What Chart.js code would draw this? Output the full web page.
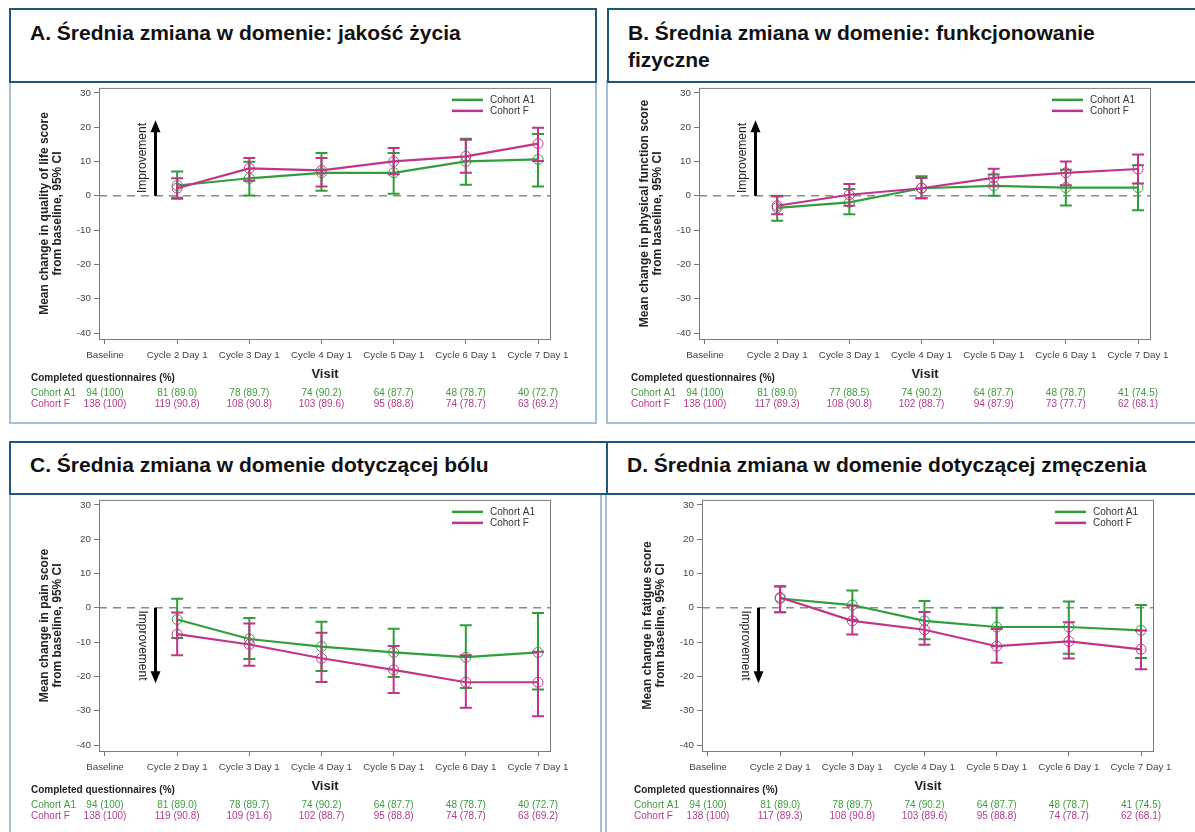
<!DOCTYPE html>
<html>
<head>
<meta charset="utf-8">
<script src="https://cdn.jsdelivr.net/npm/chart.js@4.4.1/dist/chart.umd.min.js"></script>
<style>
  body { margin: 0; width: 1195px; height: 832px; overflow: hidden; background: #fff; position: relative; font-family: "Liberation Sans", Arial, sans-serif; }
  .frame { position: absolute; border: 2px solid #a9bfd9; box-sizing: border-box; }
  .head { position: absolute; border: 2px solid #1d5878; box-sizing: border-box; background: #fff; font-weight: bold; font-size: 21px; line-height: 27px; color: #111; padding-left: 19px; z-index: 2; }
  canvas { position: absolute; z-index: 1; }
</style>
</head>
<body>
<div class="frame" style="left:9px;top:80px;width:588px;height:344px"></div>
<div class="frame" style="left:606px;top:80px;width:600px;height:344px"></div>
<div class="frame" style="left:9px;top:492px;width:593px;height:360px"></div>
<div class="frame" style="left:605px;top:492px;width:600px;height:360px"></div>

<div class="head" style="left:9px;top:8px;width:588px;height:75px;padding-top:9px">A. Średnia zmiana w domenie: jakość życia</div>
<div class="head" style="left:607px;top:8px;width:600px;height:75px;padding-top:9px">B. Średnia zmiana w domenie: funkcjonowanie<br>fizyczne</div>
<div class="head" style="left:9px;top:441px;width:599px;height:54px;padding-top:8px">C. Średnia zmiana w domenie dotyczącej bólu</div>
<div class="head" style="left:606px;top:441px;width:600px;height:54px;padding-top:8px">D. Średnia zmiana w domenie dotyczącej zmęczenia</div>

<canvas id="chartA" width="588" height="345" style="left:11px;top:79px"></canvas>
<canvas id="chartB" width="588" height="345" style="left:611px;top:79px"></canvas>
<canvas id="chartC" width="588" height="345" style="left:11px;top:491px"></canvas>
<canvas id="chartD" width="588" height="345" style="left:614px;top:491px"></canvas>

<script>
const visits = ['Baseline', 'Cycle 2 Day 1', 'Cycle 3 Day 1', 'Cycle 4 Day 1', 'Cycle 5 Day 1', 'Cycle 6 Day 1', 'Cycle 7 Day 1'];
const cohorts = ['Cohort A1', 'Cohort F'];
const yTickValues = [-40, -30, -20, -10, 0, 10, 20, 30];

// A - jakosc zycia (Cycle 2 .. Cycle 7)
const qolA1Mean = [3.0, 5.1, 6.7, 6.7, 10.0, 10.6];
const qolA1Low = [-0.6, 0.1, 1.5, 0.6, 3.2, 2.7];
const qolA1High = [7.1, 9.9, 12.5, 12.5, 16.6, 18.0];
const qolFMean = [2.2, 8.0, 7.4, 10.0, 11.5, 15.2];
const qolFLow = [-0.9, 4.4, 2.7, 6.3, 6.7, 10.1];
const qolFHigh = [5.1, 11.0, 11.0, 13.9, 16.3, 19.8];
const qolA1N = ['94 (100)', '81 (89.0)', '78 (89.7)', '74 (90.2)', '64 (87.7)', '48 (78.7)', '40 (72.7)'];
const qolFN = ['138 (100)', '119 (90.8)', '108 (90.8)', '103 (89.6)', '95 (88.8)', '74 (78.7)', '63 (69.2)'];

// B - funkcjonowanie fizyczne
const physA1Mean = [-3.5, -1.9, 2.2, 2.9, 2.4, 2.4];
const physA1Low = [-7.3, -5.4, -0.7, 0.0, -2.8, -4.2];
const physA1High = [0.0, 2.0, 5.7, 6.2, 7.6, 8.9];
const physFMean = [-2.9, 0.3, 2.2, 5.2, 6.7, 7.8];
const physFLow = [-5.4, -2.9, -0.7, 2.9, 3.1, 3.6];
const physFHigh = [-0.2, 3.4, 5.2, 7.9, 10.0, 12.0];
const physA1N = ['94 (100)', '81 (89.0)', '77 (88.5)', '74 (90.2)', '64 (87.7)', '48 (78.7)', '41 (74.5)'];
const physFN = ['138 (100)', '117 (89.3)', '108 (90.8)', '102 (88.7)', '94 (87.9)', '73 (77.7)', '62 (68.1)'];

// C - bol
const painA1Mean = [-3.4, -9.1, -11.3, -13.0, -14.4, -13.0];
const painA1Low = [-8.8, -14.9, -18.4, -20.2, -23.4, -23.8];
const painA1High = [2.6, -3.0, -4.1, -6.1, -5.1, -1.5];
const painFMean = [-7.7, -10.7, -14.7, -18.1, -21.7, -21.7];
const painFLow = [-13.8, -16.9, -21.6, -24.8, -29.1, -31.6];
const painFHigh = [-1.4, -4.6, -7.3, -11.1, -13.8, -12.8];
const painA1N = ['94 (100)', '81 (89.0)', '78 (89.7)', '74 (90.2)', '64 (87.7)', '48 (78.7)', '40 (72.7)'];
const painFN = ['138 (100)', '119 (90.8)', '109 (91.6)', '102 (88.7)', '95 (88.8)', '74 (78.7)', '63 (69.2)'];

// D - zmeczenie
const fatA1Mean = [2.7, 0.8, -3.8, -5.6, -5.6, -6.6];
const fatA1Low = [-1.3, -3.5, -9.2, -11.2, -13.4, -14.6];
const fatA1High = [6.3, 5.0, 2.0, 0.0, 1.8, 0.8];
const fatFMean = [3.0, -3.8, -6.4, -11.2, -9.8, -12.1];
const fatFLow = [-1.3, -7.8, -10.8, -16.0, -14.8, -17.9];
const fatFHigh = [6.2, 0.6, -1.2, -6.2, -4.2, -6.6];
const fatA1N = ['94 (100)', '81 (89.0)', '78 (89.7)', '74 (90.2)', '64 (87.7)', '48 (78.7)', '41 (74.5)'];
const fatFN = ['138 (100)', '117 (89.3)', '108 (90.8)', '103 (89.6)', '95 (88.8)', '74 (78.7)', '62 (68.1)'];

const GREEN = '#2f9e3b';
const MAGENTA = '#c1348a';
const GREEN_TXT = '#3f9a3f';
const MAGENTA_TXT = '#b33a8c';
const FONT = '"Liberation Sans", Arial, sans-serif';

Chart.defaults.font.family = FONT;

// slupki bledu rysowane zaraz po kazdej serii
const errorBars = {
  id: 'errorBars',
  afterDatasetDraw(chart, args) {
    const ds = chart.data.datasets[args.index];
    const xs = chart.scales.x, ys = chart.scales.y, c = chart.ctx;
    c.save();
    c.strokeStyle = ds.borderColor;
    c.lineWidth = 2;
    ds.lo.forEach(function (lo, i) {
      const x = xs.getPixelForValue(i + 1);
      const y1 = ys.getPixelForValue(lo);
      const y2 = ys.getPixelForValue(ds.hi[i]);
      c.beginPath();
      c.moveTo(x, y1); c.lineTo(x, y2);
      c.moveTo(x - 6, y1); c.lineTo(x + 6, y1);
      c.moveTo(x - 6, y2); c.lineTo(x + 6, y2);
      c.stroke();
    });
    c.restore();
  }
};

function buildPanel(id, yTitle, a1, f, tableA1, tableF, arrowEnd) {
  const ctx = document.getElementById(id);

  const extras = {
    id: 'extras',
    beforeDatasetsDraw(chart) {
      const c = chart.ctx, a = chart.chartArea, ys = chart.scales.y;
      const y0 = ys.getPixelForValue(0);
      c.save();
      c.strokeStyle = '#8a8a8a';
      c.lineWidth = 1.5;
      c.setLineDash([8, 6]);
      c.beginPath(); c.moveTo(a.left, y0); c.lineTo(a.right, y0); c.stroke();
      c.setLineDash([]);
      c.strokeStyle = '#7a7a7a';
      c.lineWidth = 1;
      c.strokeRect(a.left + 0.5, a.top + 0.5, a.right - a.left - 1, a.bottom - a.top);

      // strzalka "Improvement"
      const xs = chart.scales.x;
      const ax = xs.getPixelForValue(0.7);
      const yEnd = ys.getPixelForValue(arrowEnd);
      const dir = arrowEnd > 0 ? -1 : 1;
      c.strokeStyle = '#000';
      c.fillStyle = '#000';
      c.lineWidth = 3;
      c.beginPath(); c.moveTo(ax, y0); c.lineTo(ax, yEnd - dir * 10); c.stroke();
      c.beginPath();
      c.moveTo(ax, yEnd); c.lineTo(ax - 5, yEnd - dir * 12); c.lineTo(ax + 5, yEnd - dir * 12);
      c.closePath(); c.fill();
      c.translate(ax - 13, ys.getPixelForValue(arrowEnd / 2));
      c.rotate(dir < 0 ? -Math.PI / 2 : Math.PI / 2);
      c.font = '12px ' + FONT;
      c.fillStyle = '#222';
      c.textAlign = 'center';
      c.textBaseline = 'middle';
      c.fillText('Improvement', 0, 0);
      c.restore();
    },
    afterDraw(chart) {
      const c = chart.ctx, a = chart.chartArea, xs = chart.scales.x;
      c.save();
      // legenda
      c.lineWidth = 2.5;
      c.font = '10px ' + FONT;
      c.textBaseline = 'middle';
      [GREEN, MAGENTA].forEach(function (col, k) {
        const y = a.top + 12 + k * 11;
        c.strokeStyle = col;
        c.beginPath(); c.moveTo(a.right - 99, y); c.lineTo(a.right - 68, y); c.stroke();
        c.fillStyle = '#333';
        c.textAlign = 'left';
        c.fillText(cohorts[k], a.right - 61, y);
      });

      // tytul osi Y
      c.save();
      c.translate(0, (a.top + a.bottom) / 2);
      c.rotate(-Math.PI / 2);
      c.font = 'bold 12px ' + FONT;
      c.fillStyle = '#222';
      c.textAlign = 'center';
      c.fillText(yTitle, 0, 34);
      c.fillText('from baseline, 95% CI', 0, 47);
      c.restore();

      // Visit
      c.font = 'bold 13px ' + FONT;
      c.fillStyle = '#222';
      c.textAlign = 'center';
      c.fillText('Visit', (a.left + a.right) / 2, a.bottom + 35);

      // tabela kwestionariuszy
      c.textAlign = 'left';
      c.font = 'bold 10px ' + FONT;
      c.fillText('Completed questionnaires (%)', 20, a.bottom + 39);
      c.font = '10px ' + FONT;
      c.fillStyle = GREEN_TXT;
      c.fillText(cohorts[0], 20, a.bottom + 54);
      c.fillStyle = MAGENTA_TXT;
      c.fillText(cohorts[1], 20, a.bottom + 65);
      c.textAlign = 'center';
      tableA1.forEach(function (t, i) {
        c.fillStyle = GREEN_TXT;
        c.fillText(t, xs.getPixelForValue(i), a.bottom + 54);
        c.fillStyle = MAGENTA_TXT;
        c.fillText(tableF[i], xs.getPixelForValue(i), a.bottom + 65);
      });
      c.restore();
    }
  };

  const mk = function (label, color, s, order) {
    return {
      label: label,
      data: s[0].map(function (v, i) { return { x: i + 1, y: v }; }),
      lo: s[1],
      hi: s[2],
      borderColor: color,
      backgroundColor: 'rgba(0,0,0,0)',
      borderWidth: 2.2,
      pointRadius: 5,
      pointBorderWidth: 1,
      pointBorderColor: color,
      pointBackgroundColor: 'rgba(0,0,0,0)',
      tension: 0,
      order: order
    };
  };

  new Chart(ctx, {
    type: 'line',
    data: {
      datasets: [mk(cohorts[0], GREEN, a1, 1), mk(cohorts[1], MAGENTA, f, 0)]
    },
    options: {
      responsive: false,
      animation: false,
      devicePixelRatio: 1,
      layout: { padding: { left: 0, right: 48, top: 6, bottom: 0 } },
      plugins: { legend: { display: false }, tooltip: { enabled: false } },
      scales: {
        x: {
          type: 'linear',
          min: -0.083,
          max: 6.18,
          afterBuildTicks: function (s) { s.ticks = visits.map(function (_, i) { return { value: i }; }); },
          afterFit: function (s) { s.height = 85; },
          ticks: {
            autoSkip: false,
            maxRotation: 0,
            padding: 5,
            color: '#444',
            font: { size: 9.8 },
            callback: function (v) { return visits[v]; }
          },
          grid: { drawOnChartArea: false, drawTicks: true, tickLength: 5, color: '#777' },
          border: { display: false }
        },
        y: {
          min: -41.73,
          max: 31.44,
          afterBuildTicks: function (s) { s.ticks = yTickValues.map(function (v) { return { value: v }; }); },
          afterFit: function (s) { s.width = 88; },
          ticks: { padding: 3, color: '#444', font: { size: 9.8 } },
          grid: { drawOnChartArea: false, drawTicks: true, tickLength: 5, color: '#777' },
          border: { display: false }
        }
      }
    },
    plugins: [extras, errorBars]
  });
}

buildPanel('chartA', 'Mean change in quality of life score',
  [qolA1Mean, qolA1Low, qolA1High], [qolFMean, qolFLow, qolFHigh], qolA1N, qolFN, 22);
buildPanel('chartB', 'Mean change in physical function score',
  [physA1Mean, physA1Low, physA1High], [physFMean, physFLow, physFHigh], physA1N, physFN, 22);
buildPanel('chartC', 'Mean change in pain score',
  [painA1Mean, painA1Low, painA1High], [painFMean, painFLow, painFHigh], painA1N, painFN, -22);
buildPanel('chartD', 'Mean change in fatigue score',
  [fatA1Mean, fatA1Low, fatA1High], [fatFMean, fatFLow, fatFHigh], fatA1N, fatFN, -22);
</script>
</body>
</html>
